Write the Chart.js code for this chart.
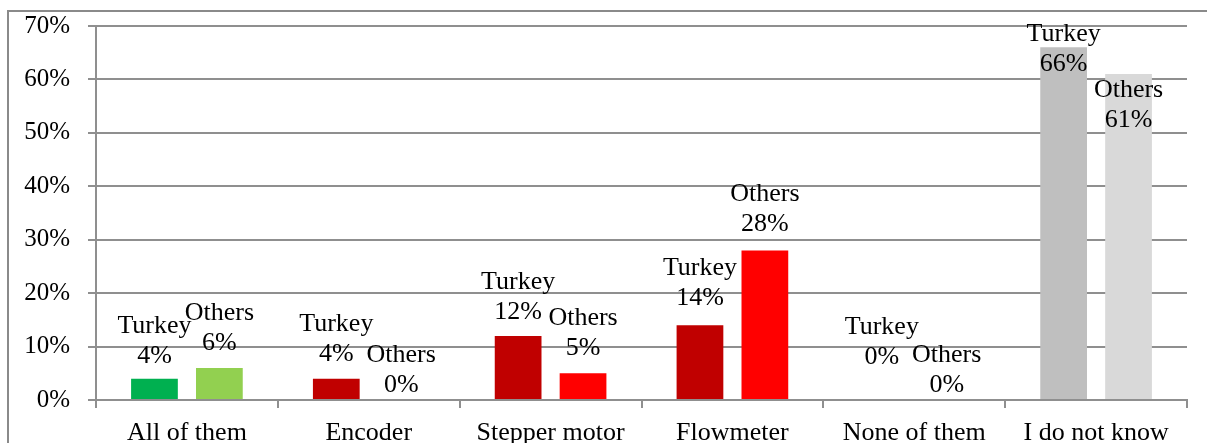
<!DOCTYPE html>
<html>
<head>
<meta charset="utf-8">
<script src="https://cdn.jsdelivr.net/npm/chart.js@4.4.1/dist/chart.umd.min.js"></script>
<style>
  html, body { margin: 0; padding: 0; background: #fff; }
  #wrap { width: 1207px; height: 443px; position: relative; }
</style>
</head>
<body>
<div id="wrap"><canvas id="chart"></canvas></div>
<script>
// values (percent)
const categories = ["All of them", "Encoder", "Stepper motor", "Flowmeter", "None of them", "I do not know"];
const turkeyValues = [4, 4, 12, 14, 0, 66];
const othersValues = [6, 0, 5, 28, 0, 61];
const yTicks = [0, 10, 20, 30, 40, 50, 60, 70];

const turkeyColors = ["#00b050", "#c00000", "#c00000", "#c00000", "#c00000", "#bfbfbf"];
const othersColors = ["#92d050", "#ff0000", "#ff0000", "#ff0000", "#ff0000", "#d9d9d9"];

const FONT = "'Liberation Serif', 'Times New Roman', serif";
const GRID = "#8f8f8f";

// outer frame like the exported picture
const framePlugin = {
  id: "frame",
  beforeDraw(chart) {
    const ctx = chart.ctx;
    ctx.save();
    ctx.strokeStyle = "#8a8a8a";
    ctx.lineWidth = 2;
    ctx.beginPath();
    ctx.moveTo(8, 443);
    ctx.lineTo(8, 11);
    ctx.lineTo(1207, 11);
    ctx.stroke();
    ctx.restore();
  }
};

// two-line data labels: series name + value
const barLabels = {
  id: "barLabels",
  afterDatasetsDraw(chart, args, opts) {
    const ctx = chart.ctx;
    ctx.save();
    ctx.font = "26px " + FONT;
    ctx.fillStyle = "#000";
    ctx.textAlign = "center";
    ctx.textBaseline = "middle";
    chart.data.datasets.forEach((ds, di) => {
      const meta = chart.getDatasetMeta(di);
      const shift = opts.shifts[di];
      meta.data.forEach((bar, i) => {
        const vy = bar.y - 25 + shift[i];
        ctx.fillText(ds.label, bar.x, vy - 30);
        ctx.fillText(ds.data[i] + "%", bar.x, vy);
      });
    });
    ctx.restore();
  }
};

new Chart(document.getElementById("chart"), {
  type: "bar",
  data: {
    labels: categories,
    datasets: [
      { label: "Turkey", data: turkeyValues, backgroundColor: turkeyColors,
        categoryPercentage: 0.714, barPercentage: 0.72 },
      { label: "Others", data: othersValues, backgroundColor: othersColors,
        categoryPercentage: 0.714, barPercentage: 0.72 }
    ]
  },
  options: {
    responsive: true,
    maintainAspectRatio: false,
    animation: false,
    layout: { padding: { top: 26, right: 20, left: 0, bottom: 0 } },
    plugins: {
      legend: { display: false },
      tooltip: { enabled: false },
      barLabels: {
        shifts: [
          [3, 1, 1, -2, -18, 42],
          [0, 10, 0, -1, 10, 71]
        ]
      }
    },
    scales: {
      x: {
        grid: { drawOnChartArea: false, drawTicks: true, tickLength: 8, color: GRID, lineWidth: 2 },
        border: { display: true, color: GRID, width: 2 },
        ticks: { color: "#000", font: { family: FONT, size: 26 }, padding: 10, maxRotation: 0, autoSkip: false },
        afterFit(scale) { scale.height = 43; }
      },
      y: {
        min: 0,
        max: 70,
        afterBuildTicks(scale) { scale.ticks = yTicks.map(v => ({ value: v })); },
        grid: { color: GRID, lineWidth: 2, tickLength: 8 },
        border: { display: true, color: GRID, width: 2 },
        ticks: {
          color: "#000",
          font: { family: FONT, size: 25 },
          padding: 18,
          callback: v => v + "%"
        },
        afterFit(scale) {
          scale.width = 96;
          scale.paddingTop = 0;
          scale.paddingBottom = 0;
        }
      }
    }
  },
  plugins: [framePlugin, barLabels]
});
</script>
</body>
</html>
